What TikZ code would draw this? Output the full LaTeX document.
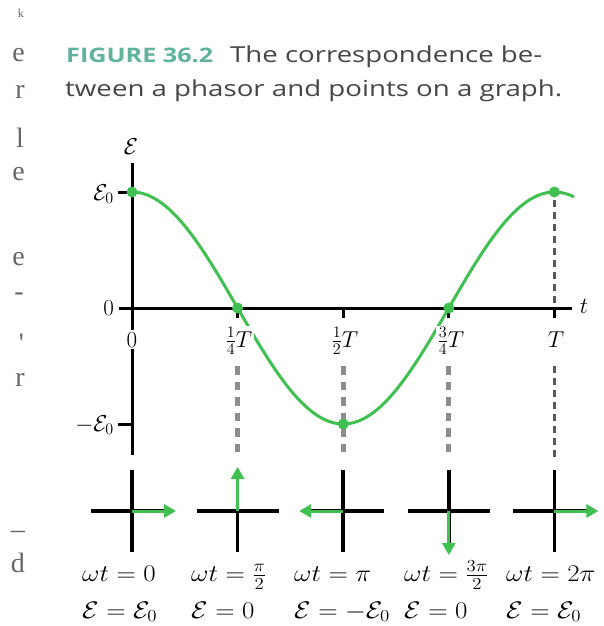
\documentclass[tikz,border=0pt]{standalone}
\usepackage{fix-cm}
\usepackage{amsmath}
\usepackage{fontspec}
\usepackage{graphicx}
\newfontfamily\capfont{Open Sans}
\newfontfamily\marginfont{Liberation Serif}
\usetikzlibrary{arrows.meta,calc}
\definecolor{curvegreen}{RGB}{64,192,80}
\definecolor{capteal}{RGB}{95,178,155}
\definecolor{captext}{RGB}{70,70,70}
\definecolor{dashgray}{RGB}{140,140,140}
\newcommand{\widerow}[1]{\scalebox{1.12}[1]{#1}}
\begin{document}
\begin{tikzpicture}[x=1pt,y=-1pt,
  axisline/.style={line width=3pt, black},
  tickmark/.style={line width=3pt, black},
  wave/.style={line width=3pt, curvegreen},
  dot/.style={circle, fill=curvegreen, inner sep=0pt, minimum size=11pt},
  guide/.style={line width=5pt, dashgray, dash pattern=on 8.5pt off 7pt},
  guidethin/.style={line width=3pt, black!65, dash pattern=on 7pt off 5pt},
  arm/.style={line width=3.5pt, black},
  phasorvec/.style={line width=3pt, curvegreen, -{Triangle[length=12pt,width=13pt]}},
  mlabel/.style={inner sep=0pt, font=\fontsize{23}{27}\selectfont},
  ticklabel/.style={inner sep=2pt, fill=white, anchor=base, font=\fontsize{23}{27}\selectfont},
  rowlabel/.style={inner sep=0pt, anchor=base west, font=\fontsize{24}{28}\selectfont},
  marginlbl/.style={inner sep=0pt, anchor=base east, text=black!60, font=\marginfont\fontsize{28}{32}\selectfont},
  captionline/.style={inner sep=0pt, anchor=base west, text=captext, font=\capfont\fontsize{22}{26}\selectfont}
]
\useasboundingbox[fill=white] (0,0) rectangle (603,626);

% margin fragments of neighbouring column
\node[marginlbl, font=\marginfont\fontsize{12}{14}\selectfont] (m0) at (24,18) {k};
\node[marginlbl] (m1) at (25,62) {e};
\node[marginlbl] (m2) at (25,98) {r};
\node[marginlbl] (m3) at (24,147) {l};
\node[marginlbl] (m4) at (25,180) {e};
\node[marginlbl] (m5) at (25,265) {e};
\node[marginlbl] (m6) at (24,300) {-};
\node[marginlbl] (m7) at (24,352) {'};
\node[marginlbl] (m8) at (25,386) {r};
\node[marginlbl] (m9) at (25,538) {\textendash};
\node[marginlbl] (m10) at (25,572) {d};

% caption
\node[captionline, text=capteal, font=\capfont\bfseries\fontsize{20}{24}\selectfont] (capfig) at (66,63)
  {\resizebox{147pt}{\height}{FIGURE 36.2}};
\node[captionline] (cap1) at (230,63) {\resizebox{312pt}{\height}{The correspondence be-}};
\node[captionline] (cap2) at (65,96) {\resizebox{497pt}{\height}{tween a phasor and points on a graph.}};

% axes
\coordinate (vtop) at (132,163);
\coordinate (vbot) at (132,455);
\coordinate (hleft) at (119,308);
\coordinate (hright) at (572,308);
\draw[axisline] (vtop) -- (vbot);
\draw[axisline] (hleft) -- (hright);

% quarter positions
\foreach \n/\xx in {1/237.6, 2/343.2, 3/448.8, 4/554.4} {
  \coordinate (tk\n) at (\xx,308);
  \coordinate (tkb\n) at (\xx,318);
  \draw[tickmark] (tk\n) -- (tkb\n);
}
\coordinate (e0a) at (118,192); \coordinate (e0b) at (132,192);
\coordinate (e1a) at (118,424); \coordinate (e1b) at (132,424);
\draw[tickmark] (e0a) -- (e0b);
\draw[tickmark] (e1a) -- (e1b);

% guide lines
\foreach \n/\xx in {1/237.6, 2/343.2, 3/448.8} {
  \coordinate (ga\n) at (\xx,366);
  \coordinate (gb\n) at (\xx,458);
  \draw[guide] (ga\n) -- (gb\n);
}
\coordinate (ga4) at (554.4,200); \coordinate (gb4) at (554.4,303);
\coordinate (gc4) at (554.4,366); \coordinate (gd4) at (554.4,458);
\draw[guidethin] (ga4) -- (gb4);
\draw[guidethin] (gc4) -- (gd4);

% curve
\draw[wave] plot[domain=132:574, samples=150, smooth] (\x, {308 - 116*cos(((\x-132)/422.4)*360)});

% dots
\node[dot] (d0) at (132,192) {};
\node[dot] (d1) at (237.6,308) {};
\node[dot] (d2) at (343.2,424) {};
\node[dot] (d3) at (448.8,308) {};
\node[dot] (d4) at (554.4,192) {};

% axis labels
\node[mlabel] (lE) at (131,147) {$\mathcal{E}$};
\node[mlabel, anchor=east] (lE0) at (114,194) {$\mathcal{E}_0$};
\node[mlabel, anchor=east] (lzero) at (114,308) {$0$};
\node[mlabel, anchor=east] (lmE0) at (114,425) {$-\mathcal{E}_0$};
\node[mlabel] (lt) at (584,306) {$t$};

% tick labels
\node[ticklabel] (t0) at (132,347) {$0$};
\node[ticklabel] (t1) at (239,347) {$\frac{1}{4}T$};
\node[ticklabel] (t2) at (345,347) {$\frac{1}{2}T$};
\node[ticklabel] (t3) at (451,347) {$\frac{3}{4}T$};
\node[ticklabel] (t4) at (556,347) {$T$};

% phasor diagrams
\foreach \n/\xx/\ang in {0/132/0, 1/237.6/-90, 2/343.2/180, 3/448.8/90, 4/554.4/0} {
  \coordinate (pc\n) at (\xx,511);
  \coordinate (pl\n) at (\xx-41,511);
  \coordinate (pr\n) at (\xx+41,511);
  \coordinate (pt\n) at (\xx,470);
  \coordinate (pb\n) at (\xx,552);
  \coordinate (ph\n) at ($(pc\n)+(\ang:44)$);
  \draw[arm] (pl\n) -- (pr\n);
  \draw[arm] (pt\n) -- (pb\n);
  \draw[phasorvec] (pc\n) -- (ph\n);
}

% phasor labels
\node[rowlabel] (a0) at (82,581) {\widerow{$\omega t = 0$}};
\node[rowlabel] (a1) at (191,581) {\widerow{$\omega t = \frac{\pi}{2}$}};
\node[rowlabel] (a2) at (294,581) {\widerow{$\omega t = \pi$}};
\node[rowlabel] (a3) at (404,581) {\widerow{$\omega t = \frac{3\pi}{2}$}};
\node[rowlabel] (a4) at (506,581) {\widerow{$\omega t = 2\pi$}};
\node[rowlabel] (b0) at (82,618) {\widerow{$\mathcal{E} = \mathcal{E}_0$}};
\node[rowlabel] (b1) at (191,618) {\widerow{$\mathcal{E} = 0$}};
\node[rowlabel] (b2) at (294,618) {\widerow{$\mathcal{E} = -\mathcal{E}_0$}};
\node[rowlabel] (b3) at (404,618) {\widerow{$\mathcal{E} = 0$}};
\node[rowlabel] (b4) at (506,618) {\widerow{$\mathcal{E} = \mathcal{E}_0$}};
\end{tikzpicture}
\end{document}
